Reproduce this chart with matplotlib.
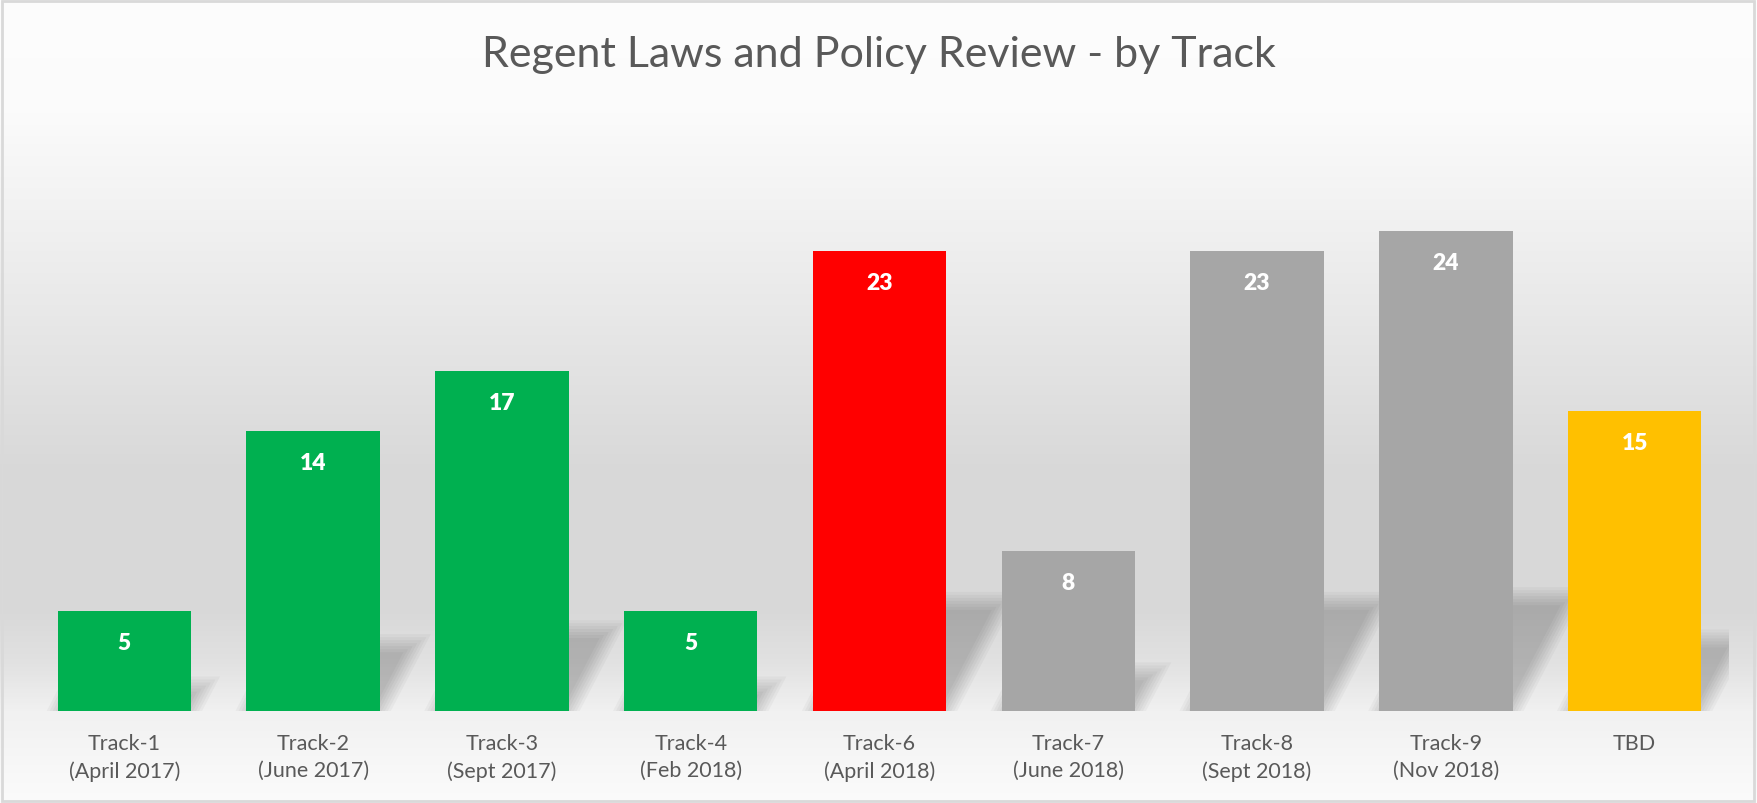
import numpy as np
import matplotlib
matplotlib.use("Agg")
import matplotlib.pyplot as plt
from matplotlib.colors import LinearSegmentedColormap
from matplotlib.patches import Polygon, Rectangle

tracks = ["Track-1\n(April 2017)", "Track-2\n(June 2017)", "Track-3\n(Sept 2017)",
          "Track-4\n(Feb 2018)", "Track-6\n(April 2018)", "Track-7\n(June 2018)",
          "Track-8\n(Sept 2018)", "Track-9\n(Nov 2018)", "TBD"]
counts = [5, 14, 17, 5, 23, 8, 23, 24, 15]
colors = ["#00b050", "#00b050", "#00b050", "#00b050", "#ff0000",
          "#a6a6a6", "#a6a6a6", "#a6a6a6", "#ffc000"]

plt.rcParams['font.family'] = ['Lato', 'DejaVu Sans']

W, H = 1758, 804
fig = plt.figure(figsize=(W / 100, H / 100), dpi=100)

# background gradient (white -> gray -> white)
bg = fig.add_axes([0, 0, 1, 1], zorder=0)
grad = LinearSegmentedColormap.from_list("bg", [
    (0.0, "#fdfdfd"), (0.14, "#fbfbfb"), (0.38, "#e9e9e9"), (0.58, "#d9d9d9"),
    (0.76, "#d8d8d8"), (0.83, "#e2e2e2"), (0.89, "#f1f1f1"), (1.0, "#fbfbfb")])
g = np.linspace(0, 1, 400).reshape(-1, 1)
bg.imshow(g, aspect="auto", cmap=grad, extent=[0, 1, 1, 0])
bg.set_xlim(0, 1)
bg.set_ylim(1, 0)
bg.axis("off")
bg.add_patch(Rectangle((0.001, 0.002), 0.997, 0.995, fill=False, ec="#d9d9d9", lw=2))

ax = fig.add_axes([30 / W, 92 / H, 1699 / W, 600 / H], zorder=1)
ax.patch.set_alpha(0)
x = np.arange(len(counts))
width = 0.707
ax.set_xlim(-0.5, len(counts) - 0.5)
ax.set_ylim(0, 30)

# soft perspective shadows behind the bars
pxx, pxy = 1699 / len(counts), 20.0
for i, v in enumerate(counts):
    hs = 0.235 * v
    dx = 0.52 * hs * pxy / pxx
    for grow in [-7, -4, -1, 2, 5, 8, 11]:
        gx, gy = grow / pxx, grow / pxy
        x0, x1 = i - width / 2 - gx, i + width / 2 + gx
        top = max(hs + gy, 0.1)
        d = dx * top / hs
        poly = Polygon([(x0, 0), (x1, 0), (x1 + d, top), (x0 + d, top)],
                       closed=True, fc="black", ec="none", alpha=0.03, zorder=1)
        ax.add_patch(poly)

bars = ax.bar(x, counts, width=width, color=colors, zorder=2)
for b, v in zip(bars, counts):
    ax.annotate(str(v), (b.get_x() + b.get_width() / 2, v), xytext=(0, -23),
                textcoords="offset points", ha="center", va="center",
                color="white", fontsize=16.5, fontweight="heavy", zorder=3)

ax.set_xticks(x)
ax.set_xticklabels(tracks, fontsize=15.5, color="#595959", linespacing=1.42)
ax.tick_params(axis="x", length=0, pad=16)
ax.set_yticks([])
for s in ax.spines.values():
    s.set_visible(False)

fig.text(0.5, 1 - 55 / H, "Regent Laws and Policy Review - by Track", ha="center",
         va="center", fontsize=31, color="#595959", fontweight="normal")

fig.savefig("out.png", dpi=100)
